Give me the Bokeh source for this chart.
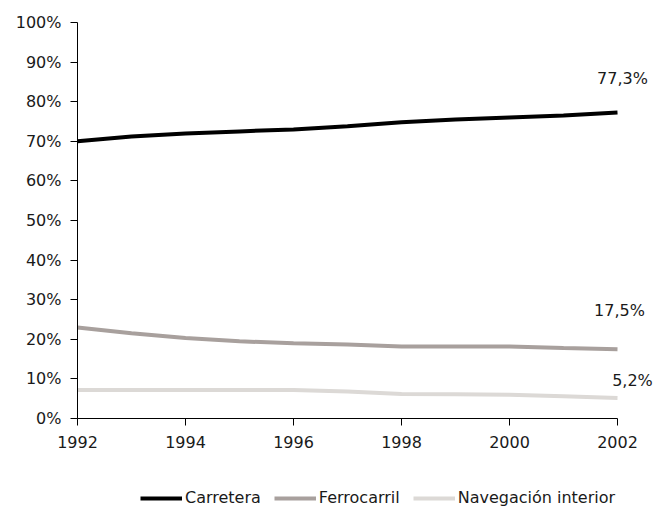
from bokeh.plotting import figure
from bokeh.models import FixedTicker, Legend, LegendItem, Label
from bokeh.layouts import column
from bokeh.embed import file_html
from bokeh.resources import INLINE

years = [1992, 1993, 1994, 1995, 1996, 1997, 1998, 1999, 2000, 2001, 2002]
carretera = [70.0, 71.2, 72.0, 72.5, 73.0, 73.8, 74.8, 75.5, 76.0, 76.5, 77.3]
ferrocarril = [23.0, 21.5, 20.3, 19.5, 19.0, 18.7, 18.2, 18.2, 18.2, 17.8, 17.5]
navegacion = [7.2, 7.2, 7.2, 7.2, 7.2, 6.8, 6.2, 6.1, 6.0, 5.6, 5.2]
series_names = ["Carretera", "Ferrocarril", "Navegación interior"]
y_ticks = [0, 10, 20, 30, 40, 50, 60, 70, 80, 90, 100]
x_ticks = [1992, 1994, 1996, 1998, 2000, 2002]

colors = ["#000000", "#a8a09d", "#dcd9d6"]
FONT = "DejaVu Sans"
FS = "16px"
TXT = "#1a1a1a"

# frame extends past 2002 so the end labels are not clipped; axis is bounded
p = figure(width=653, height=460, output_backend="svg", toolbar_location=None,
           x_range=(1992, 2002 + 36 / 54), y_range=(0, 100),
           min_border_left=77, min_border_right=0, min_border_top=22, min_border_bottom=42)
p.outline_line_color = None
p.xgrid.visible = False
p.ygrid.visible = False

for vals, col in zip([carretera, ferrocarril, navegacion], colors):
    p.line(years, vals, line_color=col, line_width=4)

# end labels
label_dx = [5, 2, 15]
label_dy = [34, 39, 17]
for vals, dx, dy in zip([carretera, ferrocarril, navegacion], label_dx, label_dy):
    txt = ("%.1f" % vals[-1]).replace(".", ",") + "%"
    p.add_layout(Label(x=years[-1], y=vals[-1], text=txt, x_offset=dx, y_offset=dy,
                       text_align="center", text_baseline="middle",
                       text_font=FONT, text_font_size=FS, text_color=TXT))

for ax in (p.xaxis[0], p.yaxis[0]):
    ax.axis_line_color = "#000000"
    ax.major_tick_line_color = "#000000"
    ax.major_tick_out = 7
    ax.major_tick_in = 0
    ax.minor_tick_line_color = None
    ax.major_label_text_font = FONT
    ax.major_label_text_font_size = FS
    ax.major_label_text_color = TXT

p.yaxis[0].ticker = FixedTicker(ticks=y_ticks)
p.yaxis[0].major_label_overrides = {t: f"{t}%" for t in y_ticks}
p.yaxis[0].major_label_standoff = 9
p.xaxis[0].ticker = FixedTicker(ticks=x_ticks)
p.xaxis[0].bounds = (years[0], years[-1])
p.xaxis[0].major_label_overrides = {t: str(t) for t in x_ticks}
p.xaxis[0].major_label_standoff = 10

# legend strip below the chart (its frame is aligned with the chart's frame)
lf = figure(width=653, height=49, output_backend="svg", toolbar_location=None,
            x_axis_location=None, y_axis_location=None,
            x_range=(0, 1), y_range=(0, 1),
            min_border=0, min_border_left=0, min_border_right=0,
            min_border_top=0, min_border_bottom=0)
lf.outline_line_color = None
lf.xgrid.visible = False
lf.ygrid.visible = False
# swatch renderers carry the series but sit outside this strip's visible ranges
swatches = [lf.line(x=years, y=vals, line_color=c, line_width=4)
            for vals, c in zip([carretera, ferrocarril, navegacion], colors)]
legend = Legend(items=[LegendItem(label=n, renderers=[r]) for n, r in zip(series_names, swatches)],
                orientation="horizontal", location=(63, 2),
                glyph_width=42, glyph_height=16, label_standoff=3, spacing=13,
                padding=0, margin=0, border_line_alpha=0, background_fill_alpha=0,
                label_text_font=FONT, label_text_font_size=FS, label_text_color=TXT)
lf.add_layout(legend, "center")

layout = column(p, lf, spacing=0)
open("out.html", "w").write(file_html(layout, INLINE))
